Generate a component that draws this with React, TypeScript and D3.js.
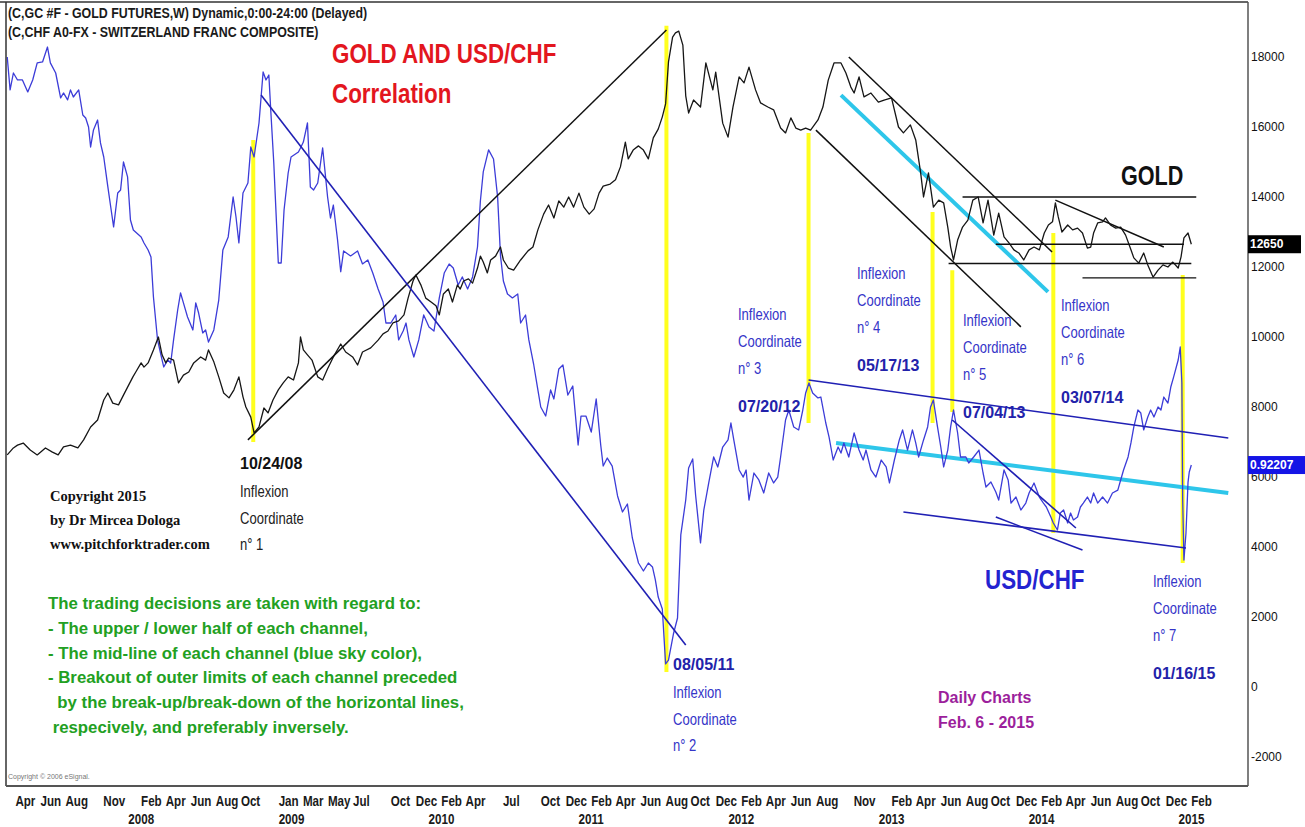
import React from 'react';
import * as d3 from 'd3';

// ---------- DATA ----------
// Gold futures (weekly close, chart units = price x 10)
const goldSeries: [string, number][] = [
  ['2007-03-17',6630],['2007-04-01',6830],['2007-04-11',6910],['2007-04-25',6970],['2007-05-12',6770],['2007-05-29',6630],
  ['2007-06-18',6830],['2007-07-05',6710],['2007-07-19',6630],['2007-08-01',6860],['2007-08-18',6910],['2007-09-05',6830],
  ['2007-09-19',7060],['2007-10-06',7430],['2007-10-23',7630],['2007-11-07',8200],['2007-11-17',8400],['2007-11-29',8110],
  ['2007-12-13',8060],['2007-12-25',8340],['2008-01-17',8860],['2008-01-24',9000],['2008-02-06',9260],['2008-02-13',9140],
  ['2008-02-23',9260],['2008-03-07',9630],['2008-03-19',10000],['2008-03-28',9490],['2008-04-06',9260],['2008-04-13',9400],
  ['2008-04-25',9340],['2008-05-07',8690],['2008-05-19',8910],['2008-06-01',9000],['2008-06-13',9260],['2008-06-30',9430],
  ['2008-07-12',9340],['2008-07-19',9630],['2008-08-01',9290],['2008-08-13',8860],['2008-08-25',8400],['2008-09-07',8260],
  ['2008-09-19',8490],['2008-10-01',8860],['2008-10-11',8290],['2008-10-18',8000],['2008-10-30',7710],['2008-11-07',7260],
  ['2008-11-19',7430],['2008-12-01',7970],['2008-12-11',7830],['2008-12-23',8200],['2009-01-05',8490],['2009-01-17',8690],
  ['2009-01-29',8860],['2009-02-11',8770],['2009-02-23',9260],['2009-02-28',10000],['2009-03-07',9630],['2009-03-17',9490],
  ['2009-03-28',9340],['2009-04-11',8860],['2009-04-23',8770],['2009-05-05',9090],['2009-05-19',9430],['2009-06-06',9800],
  ['2009-06-18',9570],['2009-07-05',9430],['2009-07-17',9200],['2009-07-29',9570],['2009-08-18',9690],['2009-09-05',9910],
  ['2009-09-17',10090],['2009-09-29',10170],['2009-10-11',10400],['2009-10-25',10460],['2009-11-07',10630],['2009-11-17',11110],
  ['2009-11-29',11600],['2009-12-06',11770],['2009-12-18',11490],['2009-12-30',11110],['2010-01-12',11000],['2010-01-24',10890],
  ['2010-02-01',10630],['2010-02-11',11230],['2010-02-23',11370],['2010-03-05',11000],['2010-03-17',11490],['2010-03-24',11370],
  ['2010-04-01',11600],['2010-04-13',11660],['2010-04-23',11540],['2010-05-05',11970],['2010-05-12',12310],['2010-05-19',12140],
  ['2010-05-29',11830],['2010-06-06',12200],['2010-06-18',12310],['2010-06-30',12570],['2010-07-07',12200],['2010-07-19',11970],
  ['2010-08-01',11910],['2010-08-18',12200],['2010-09-05',12460],['2010-09-17',12570],['2010-09-29',13060],['2010-10-13',13510],
  ['2010-10-25',13770],['2010-11-07',13400],['2010-11-19',13890],['2010-12-01',13710],['2010-12-13',14000],['2010-12-25',13710],
  ['2011-01-07',14110],['2011-01-19',13710],['2011-02-01',13510],['2011-02-13',13660],['2011-02-25',14110],['2011-03-07',14310],
  ['2011-03-24',14370],['2011-04-06',14490],['2011-04-18',14860],['2011-04-30',15570],['2011-05-07',15090],['2011-05-19',15340],
  ['2011-06-01',15460],['2011-06-13',15340],['2011-06-25',15090],['2011-07-07',15690],['2011-07-19',15940],['2011-07-29',16290],
  ['2011-08-06',16660],['2011-08-13',17860],['2011-08-23',18570],['2011-08-30',18690],['2011-09-07',18740],['2011-09-17',18340],
  ['2011-09-24',16890],['2011-10-01',16400],['2011-10-13',16770],['2011-10-30',16570],['2011-11-12',17830],['2011-11-29',17060],
  ['2011-12-06',17570],['2011-12-23',16110],['2012-01-05',15710],['2012-01-17',16570],['2012-02-01',17430],['2012-02-13',17260],
  ['2012-02-25',17710],['2012-03-12',17060],['2012-03-24',16690],['2012-04-11',16570],['2012-04-25',16490],['2012-05-12',15970],
  ['2012-05-24',15830],['2012-06-06',16260],['2012-06-18',15970],['2012-06-30',15910],['2012-07-12',15970],['2012-07-24',15910],
  ['2012-08-11',16200],['2012-08-23',16570],['2012-09-05',17340],['2012-09-19',17830],['2012-10-06',17830],['2012-10-18',17540],
  ['2012-10-30',17140],['2012-11-07',16970],['2012-11-19',17430],['2012-12-01',16860],['2012-12-18',16970],['2013-01-05',16710],
  ['2013-01-19',16770],['2013-02-06',16830],['2013-02-23',16000],['2013-03-07',15830],['2013-03-24',16060],['2013-04-06',15630],
  ['2013-04-18',14690],['2013-04-25',14000],['2013-05-07',14690],['2013-05-19',13710],['2013-06-01',13910],['2013-06-13',13830],
  ['2013-06-23',13140],['2013-06-30',12570],['2013-07-07',12200],['2013-07-17',12770],['2013-07-29',13140],['2013-08-11',13340],
  ['2013-08-23',13910],['2013-09-05',14000],['2013-09-17',13260],['2013-09-29',13910],['2013-10-13',12910],['2013-10-25',13540],
  ['2013-11-07',12860],['2013-11-19',12690],['2013-12-01',12490],['2013-12-13',12400],['2013-12-25',12200],['2014-01-07',12490],
  ['2014-01-19',12570],['2014-02-01',12490],['2014-02-13',12970],['2014-02-23',13200],['2014-03-05',13290],['2014-03-12',13830],
  ['2014-03-19',13430],['2014-03-28',13000],['2014-04-11',13200],['2014-04-23',13060],['2014-05-05',13110],['2014-05-17',12970],
  ['2014-05-29',12540],['2014-06-06',12570],['2014-06-13',12970],['2014-06-23',13260],['2014-07-05',13290],['2014-07-12',13400],
  ['2014-07-24',13200],['2014-08-06',13110],['2014-08-18',13140],['2014-08-30',12910],['2014-09-12',12490],['2014-09-19',12260],
  ['2014-10-01',12110],['2014-10-13',12400],['2014-10-23',12060],['2014-11-05',11710],['2014-11-17',11910],['2014-11-29',12060],
  ['2014-12-11',12000],['2014-12-23',12140],['2015-01-05',11970],['2015-01-12',12290],['2015-01-19',12830],['2015-01-29',12970],
  ['2015-02-06',12650],
];

// USD/CHF (Swiss franc composite)
const chfSeries: [string, number][] = [
  ['2007-03-17',1.2738],['2007-03-24',1.2454],['2007-04-01',1.2600],['2007-04-11',1.2540],['2007-04-23',1.2540],['2007-05-06',1.2437],
  ['2007-05-18',1.2540],['2007-05-29',1.2687],['2007-06-11',1.2695],['2007-06-23',1.2824],['2007-06-30',1.2687],['2007-07-13',1.2600],
  ['2007-07-25',1.2385],['2007-08-01',1.2428],['2007-08-11',1.2368],['2007-08-18',1.2454],['2007-08-25',1.2393],['2007-09-07',1.2454],
  ['2007-09-17',1.2238],['2007-09-24',1.2212],['2007-10-01',1.2135],['2007-10-06',1.1962],['2007-10-13',1.2109],['2007-10-23',1.2195],
  ['2007-10-30',1.1997],['2007-11-07',1.1876],['2007-11-17',1.1618],['2007-11-24',1.1445],['2007-12-01',1.1273],['2007-12-11',1.1566],
  ['2007-12-18',1.1592],['2007-12-25',1.1833],['2008-01-04',1.1704],['2008-01-11',1.1333],['2008-01-18',1.1247],['2008-02-06',1.1187],
  ['2008-02-13',1.1135],['2008-02-23',1.1074],['2008-03-01',1.1014],['2008-03-07',1.0669],['2008-03-17',1.0299],['2008-03-24',1.0187],
  ['2008-04-01',1.0066],['2008-04-11',1.0126],['2008-04-18',1.0100],['2008-04-25',1.0299],['2008-05-05',1.0557],['2008-05-12',1.0704],
  ['2008-05-19',1.0618],['2008-05-29',1.0497],['2008-06-11',1.0385],['2008-06-18',1.0618],['2008-06-25',1.0531],['2008-07-05',1.0359],
  ['2008-07-12',1.0385],['2008-07-19',1.0281],['2008-08-01',1.0385],['2008-08-13',1.0643],['2008-08-23',1.1074],['2008-09-05',1.1187],
  ['2008-09-17',1.1531],['2008-09-24',1.1359],['2008-10-01',1.1135],['2008-10-11',1.1566],['2008-10-23',1.1652],['2008-10-30',1.1962],
  ['2008-11-07',1.1876],['2008-11-19',1.2169],['2008-11-29',1.2609],['2008-12-06',1.2540],['2008-12-13',1.2583],['2008-12-18',1.2255],
  ['2008-12-25',1.1824],['2009-01-05',1.0962],['2009-01-12',1.0962],['2009-01-19',1.1419],['2009-01-29',1.1738],['2009-02-05',1.1876],
  ['2009-02-23',1.1919],['2009-02-28',1.1954],['2009-03-07',1.2005],['2009-03-17',1.2169],['2009-03-24',1.1618],['2009-04-01',1.1592],
  ['2009-04-11',1.1652],['2009-04-23',1.1954],['2009-05-05',1.1531],['2009-05-12',1.1350],['2009-05-19',1.1462],['2009-05-29',1.1169],
  ['2009-06-06',1.0887],['2009-06-13',1.1066],['2009-06-30',1.1023],['2009-07-17',1.1066],['2009-07-29',1.0954],['2009-08-11',1.0988],
  ['2009-08-23',1.0876],['2009-09-05',1.0738],['2009-09-17',1.0626],['2009-09-24',1.0445],['2009-10-06',1.0445],['2009-10-18',1.0514],
  ['2009-10-25',1.0299],['2009-11-05',1.0376],['2009-11-12',1.0445],['2009-11-19',1.0299],['2009-12-01',1.0152],['2009-12-13',1.0299],
  ['2009-12-25',1.0514],['2010-01-07',1.0411],['2010-01-19',1.0376],['2010-02-01',1.0661],['2010-02-13',1.0876],['2010-02-25',1.0954],
  ['2010-03-07',1.0919],['2010-03-19',1.0773],['2010-03-29',1.0842],['2010-04-11',1.0738],['2010-04-23',1.0842],['2010-05-05',1.1100],
  ['2010-05-12',1.1497],['2010-05-19',1.1747],['2010-06-01',1.1937],['2010-06-13',1.1859],['2010-06-23',1.1531],['2010-06-30',1.1023],
  ['2010-07-07',1.0807],['2010-07-17',1.0695],['2010-07-29',1.0661],['2010-08-11',1.0695],['2010-08-18',1.0445],['2010-08-30',1.0514],
  ['2010-09-07',1.0299],['2010-09-19',1.0083],['2010-09-29',0.9868],['2010-10-06',0.9721],['2010-10-18',0.9643],['2010-10-30',0.9868],
  ['2010-11-07',0.9790],['2010-11-19',1.0049],['2010-11-29',1.0083],['2010-12-11',0.9824],['2010-12-23',0.9902],['2011-01-05',0.9393],
  ['2011-01-12',0.9643],['2011-01-24',0.9643],['2011-02-06',0.9505],['2011-02-18',0.9790],['2011-03-01',0.9393],['2011-03-07',0.9212],
  ['2011-03-17',0.9281],['2011-03-29',0.9212],['2011-04-11',0.8954],['2011-04-23',0.8816],['2011-05-05',0.8885],['2011-05-17',0.8592],
  ['2011-05-24',0.8488],['2011-06-01',0.8376],['2011-06-13',0.8307],['2011-06-25',0.8376],['2011-07-05',0.8342],['2011-07-12',0.8230],
  ['2011-07-19',0.8083],['2011-07-29',0.7980],['2011-08-06',0.7506],['2011-08-13',0.7540],['2011-08-25',0.7764],['2011-09-04',0.7902],
  ['2011-09-12',0.8618],['2011-09-24',0.8919],['2011-10-01',0.9195],['2011-10-11',0.9273],['2011-10-18',0.8962],['2011-10-30',0.8549],
  ['2011-11-07',0.8833],['2011-11-19',0.9066],['2011-12-01',0.9290],['2011-12-11',0.9204],['2011-12-23',0.9376],['2012-01-05',0.9437],
  ['2012-01-12',0.9583],['2012-01-19',0.9437],['2012-02-01',0.9178],['2012-02-11',0.9117],['2012-02-18',0.9178],['2012-02-25',0.8919],
  ['2012-03-08',0.9152],['2012-03-20',0.9092],['2012-04-01',0.8980],['2012-04-13',0.9152],['2012-04-25',0.9066],['2012-05-05',0.9117],
  ['2012-05-12',0.9290],['2012-05-24',0.9609],['2012-06-01',0.9695],['2012-06-13',0.9549],['2012-06-25',0.9523],['2012-07-05',0.9695],
  ['2012-07-12',0.9842],['2012-07-20',0.9928],['2012-07-29',0.9842],['2012-08-11',0.9799],['2012-08-18',0.9807],['2012-08-30',0.9583],
  ['2012-09-07',0.9462],['2012-09-17',0.9264],['2012-09-29',0.9376],['2012-10-06',0.9324],['2012-10-13',0.9411],['2012-10-25',0.9290],
  ['2012-11-07',0.9497],['2012-11-19',0.9350],['2012-11-29',0.9264],['2012-12-06',0.9350],['2012-12-18',0.9178],['2012-12-30',0.9117],
  ['2013-01-12',0.9264],['2013-01-24',0.9204],['2013-02-01',0.9066],['2013-02-13',0.9264],['2013-02-25',0.9437],['2013-03-05',0.9523],
  ['2013-03-17',0.9350],['2013-03-29',0.9523],['2013-04-06',0.9411],['2013-04-13',0.9290],['2013-04-25',0.9437],['2013-05-05',0.9549],
  ['2013-05-12',0.9721],['2013-05-19',0.9781],['2013-05-29',0.9549],['2013-06-06',0.9376],['2013-06-13',0.9204],['2013-06-23',0.9350],
  ['2013-06-30',0.9549],['2013-07-07',0.9695],['2013-07-17',0.9497],['2013-07-24',0.9290],['2013-08-06',0.9290],['2013-08-13',0.9238],
  ['2013-08-25',0.9290],['2013-09-07',0.9350],['2013-09-17',0.9152],['2013-09-24',0.9031],['2013-10-06',0.9074],['2013-10-18',0.8988],
  ['2013-10-25',0.8919],['2013-11-07',0.9178],['2013-11-17',0.9092],['2013-11-24',0.8893],['2013-12-06',0.8945],['2013-12-18',0.8833],
  ['2013-12-30',0.8893],['2014-01-07',0.8980],['2014-01-19',0.9066],['2014-02-01',0.8945],['2014-02-11',0.8893],['2014-02-18',0.8859],
  ['2014-03-01',0.8773],['2014-03-07',0.8721],['2014-03-17',0.8661],['2014-03-24',0.8807],['2014-04-01',0.8833],['2014-04-11',0.8721],
  ['2014-04-18',0.8807],['2014-04-25',0.8747],['2014-05-05',0.8773],['2014-05-12',0.8859],['2014-05-19',0.8893],['2014-05-29',0.8945],
  ['2014-06-06',0.8893],['2014-06-13',0.8980],['2014-06-23',0.8893],['2014-07-05',0.8945],['2014-07-17',0.8893],['2014-07-29',0.8980],
  ['2014-08-11',0.9005],['2014-08-18',0.9092],['2014-08-25',0.9178],['2014-09-05',0.9290],['2014-09-12',0.9411],['2014-09-19',0.9549],
  ['2014-09-29',0.9695],['2014-10-06',0.9669],['2014-10-13',0.9523],['2014-10-23',0.9635],['2014-10-30',0.9695],['2014-11-07',0.9635],
  ['2014-11-17',0.9721],['2014-11-24',0.9695],['2014-12-01',0.9807],['2014-12-11',0.9755],['2014-12-18',0.9893],['2014-12-25',0.9980],
  ['2015-01-05',1.0126],['2015-01-10',1.0238],['2015-01-14',0.9928],['2015-01-16',0.8919],['2015-01-19',0.8402],['2015-01-24',0.8635],
  ['2015-01-29',0.9074],['2015-02-01',0.9161],['2015-02-06',0.92207],
];

// Gold trend / channel lines [start, end] in gold units
const goldTrendLines: [string, number][][] = [
  [['2008-10-23',7060],['2011-08-08',18770]],
  [['2012-10-25',18000],['2014-03-04',12430]],
  [['2012-08-06',15910],['2013-12-18',10290]],
  [['2014-03-12',13910],['2014-12-01',12570]],
];
const goldMidLines: [string, number][][] = [
  [['2012-10-06',16910],['2014-02-22',11290]],
];
const goldLevels: { from: string; to: string; value: number }[] = [
  { from: '2013-07-29', to: '2015-02-18', value: 14000 },
  { from: '2013-10-18', to: '2015-01-19', value: 12650 },
  { from: '2013-06-25', to: '2015-02-06', value: 12100 },
  { from: '2014-05-17', to: '2015-02-18', value: 11690 },
];
// USD/CHF trend / channel lines
const chfTrendLines: [string, number][][] = [
  [['2008-11-24',1.2410],['2011-09-24',0.7669]],
  [['2012-07-19',0.9953],['2015-05-07',0.9454]],
  [['2013-03-07',0.8816],['2015-01-24',0.8505]],
  [['2013-07-04',0.9609],['2014-05-01',0.8678]],
  [['2013-10-18',0.8772],['2014-05-17',0.8488]],
];
const chfMidLines: [string, number][][] = [
  [['2012-09-24',0.9410],['2015-05-07',0.8979]],
];
// Inflexion coordinates (vertical markers, gold-axis extent)
const inflexionMarkers: { date: string; top: number; bottom: number }[] = [
  { date: '2008-11-05', top: 15630, bottom: 7000 },
  { date: '2011-08-08', top: 18890, bottom: 430 },
  { date: '2012-07-19', top: 15830, bottom: 7540 },
  { date: '2013-05-17', top: 13570, bottom: 7540 },
  { date: '2013-07-04', top: 11910, bottom: 7860 },
  { date: '2014-03-07', top: 12970, bottom: 4400 },
  { date: '2015-01-16', top: 11770, bottom: 3540 },
];
const inflexionDates = ['10/24/08', '08/05/11', '07/20/12', '05/17/13', '07/04/13', '03/07/14', '01/16/15'];

const yTicks = [18000, 16000, 14000, 12000, 10000, 8000, 6000, 4000, 2000, 0, -2000];
const monthTicks = [
  '2007-04','2007-06','2007-08','2007-11',
  '2008-02','2008-04','2008-06','2008-08','2008-10',
  '2009-01','2009-03','2009-05','2009-07','2009-10','2009-12',
  '2010-02','2010-04','2010-07','2010-10','2010-12',
  '2011-02','2011-04','2011-06','2011-08','2011-10','2011-12',
  '2012-02','2012-04','2012-06','2012-08','2012-11',
  '2013-02','2013-04','2013-06','2013-08','2013-10','2013-12',
  '2014-02','2014-04','2014-06','2014-08','2014-10','2014-12',
  '2015-02',
];
const yearTicks = ['2008', '2009', '2010', '2011', '2012', '2013', '2014', '2015'];

const headerLines = [
  '(C,GC #F - GOLD FUTURES,W) Dynamic,0:00-24:00 (Delayed)',
  '(C,CHF A0-FX - SWITZERLAND FRANC COMPOSITE)',
];
const copyrightLines = ['Copyright 2015', 'by Dr Mircea Dologa', 'www.pitchforktrader.com'];
const noteLines = [
  'The trading decisions are taken with regard to:',
  '- The upper / lower half of each channel,',
  '- The mid-line of each channel (blue sky color),',
  '- Breakout of outer limits of each channel preceded',
  '  by the break-up/break-down of the horizontal lines,',
  ' respecively, and preferably inversely.',
];

// ---------- LAYOUT ----------
const W = 1305, H = 827;
const LEFT = 6, RIGHT = 1248, TOP = 2, BOTTOM = 786;
const ARIAL = "'Liberation Sans',Arial,Helvetica,sans-serif";
const SERIF = "'Liberation Serif','Times New Roman',serif";
const BLUE_TXT = '#3535c8';
const BLUE_DATE = '#2222aa';
const NARROW_SCALE = 0.8;

const parseDay = d3.timeParse('%Y-%m-%d');
const parseMonth = d3.timeParse('%Y-%m');
const parseYear = d3.timeParse('%Y');
const fmtMonth = d3.timeFormat('%b');

// Condensed text (Arial Narrow look-alike) by horizontal scaling
function NText(props: { x: number; y: number; size: number; fill: string; bold?: boolean; children: React.ReactNode }) {
  const { x, y, size, fill, bold, children } = props;
  return (
    <text transform={`translate(${x},${y}) scale(${NARROW_SCALE},1)`} fontFamily={ARIAL} fontSize={size}
      fontWeight={bold ? 'bold' : 'normal'} fill={fill}>{children}</text>
  );
}

export default function App() {
  const x = d3.scaleTime().domain([new Date(2007, 2, 14), new Date(2015, 5, 24)]).range([LEFT, RIGHT]);
  const yGold = d3.scaleLinear().domain([-2829, 19571]).range([BOTTOM, TOP]);
  const yChf = d3.scaleLinear().domain([0.6454, 1.3212]).range([BOTTOM, TOP]);
  const xd = (s: string) => x(parseDay(s) as Date);

  const goldPath = d3.line<[string, number]>().x(d => xd(d[0])).y(d => yGold(d[1]))(goldSeries) || '';
  const chfPath = d3.line<[string, number]>().x(d => xd(d[0])).y(d => yChf(d[1]))(chfSeries) || '';
  const seg = (pts: [string, number][], y: d3.ScaleLinear<number, number>) =>
    d3.line<[string, number]>().x(d => xd(d[0])).y(d => y(d[1]))(pts) || '';

  const lastGold = goldSeries[goldSeries.length - 1][1];
  const lastChf = chfSeries[chfSeries.length - 1][1];

  const labels: { x: number; y: number; dateFirst: boolean; color: string; dateColor: string; n: number }[] = [
    { x: 240, y: 469, dateFirst: true, color: '#222', dateColor: '#111', n: 1 },
    { x: 673, y: 670, dateFirst: true, color: BLUE_TXT, dateColor: BLUE_DATE, n: 2 },
    { x: 738, y: 320, dateFirst: false, color: BLUE_TXT, dateColor: BLUE_DATE, n: 3 },
    { x: 857, y: 279, dateFirst: false, color: BLUE_TXT, dateColor: BLUE_DATE, n: 4 },
    { x: 963, y: 326, dateFirst: false, color: BLUE_TXT, dateColor: BLUE_DATE, n: 5 },
    { x: 1061, y: 311, dateFirst: false, color: BLUE_TXT, dateColor: BLUE_DATE, n: 6 },
    { x: 1153, y: 587, dateFirst: false, color: BLUE_TXT, dateColor: BLUE_DATE, n: 7 },
  ];

  return (
    <svg width={W} height={H} style={{ position: 'absolute', left: 0, top: 0, background: '#fff' }}>
      <rect x={0} y={0} width={W} height={H} fill="#fff" />

      {/* inflexion vertical markers */}
      {inflexionMarkers.map((m, i) => (
        <line key={'ym' + i} x1={xd(m.date)} x2={xd(m.date)} y1={yGold(m.top)} y2={yGold(m.bottom)}
          stroke="#ffff1e" strokeWidth={4} />
      ))}

      {/* mid-lines (sky blue) */}
      {goldMidLines.map((l, i) => <path key={'gm' + i} d={seg(l, yGold)} stroke="#2ec6ea" strokeWidth={4} fill="none" />)}
      {chfMidLines.map((l, i) => <path key={'cm' + i} d={seg(l, yChf)} stroke="#2ec6ea" strokeWidth={4} fill="none" />)}

      {/* series */}
      <path d={chfPath} fill="none" stroke="#3c3cd8" strokeWidth={1.3} strokeLinejoin="round" />
      <path d={goldPath} fill="none" stroke="#161616" strokeWidth={1.3} strokeLinejoin="round" />

      {/* trend & channel lines */}
      {goldTrendLines.map((l, i) => <path key={'gt' + i} d={seg(l, yGold)} stroke="#111" strokeWidth={1.5} fill="none" />)}
      {goldLevels.map((l, i) => (
        <line key={'gl' + i} x1={xd(l.from)} x2={xd(l.to)} y1={yGold(l.value)} y2={yGold(l.value)} stroke="#111" strokeWidth={1.4} />
      ))}
      {chfTrendLines.map((l, i) => <path key={'ct' + i} d={seg(l, yChf)} stroke="#2020b4" strokeWidth={1.6} fill="none" />)}

      {/* frame */}
      <line x1={LEFT} x2={LEFT} y1={TOP} y2={BOTTOM} stroke="#333" strokeWidth={1.5} />
      <line x1={0} x2={RIGHT} y1={TOP} y2={TOP} stroke="#333" strokeWidth={1.5} />
      <line x1={RIGHT} x2={RIGHT} y1={TOP} y2={BOTTOM} stroke="#555" strokeWidth={1.5} />
      <line x1={LEFT} x2={RIGHT} y1={BOTTOM} y2={BOTTOM} stroke="#555" strokeWidth={2} />

      {/* header */}
      {headerLines.map((t, i) => (
        <NText key={'h' + i} x={8} y={18 + i * 19} size={15.5} bold fill="#1a1a1a">{t}</NText>
      ))}

      {/* titles */}
      <NText x={332} y={63} size={28} bold fill="#e3161e">GOLD AND USD/CHF</NText>
      <NText x={332} y={103} size={28} bold fill="#e3161e">Correlation</NText>
      <NText x={1121} y={185} size={27} bold fill="#111">GOLD</NText>
      <NText x={985} y={589} size={28} bold fill="#2323d0">USD/CHF</NText>

      {/* inflexion labels */}
      {labels.map((l, i) => {
        const date = inflexionDates[i];
        const words = ['Inflexion', 'Coordinate', 'n° ' + l.n];
        const dateEl = (yy: number) => (
          <text x={l.x} y={yy} fontFamily={ARIAL} fontWeight="bold" fontSize={16} fill={l.dateColor}>{date}</text>
        );
        if (l.dateFirst) {
          return (
            <g key={'lab' + i}>
              {dateEl(l.y)}
              {words.map((w, j) => (
                <NText key={j} x={l.x} y={l.y + 28 + j * 26.5} size={16.3} fill={l.color}>{w}</NText>
              ))}
            </g>
          );
        }
        return (
          <g key={'lab' + i}>
            {words.map((w, j) => (
              <NText key={j} x={l.x} y={l.y + j * 27} size={16.3} fill={l.color}>{w}</NText>
            ))}
            {dateEl(l.y + 92)}
          </g>
        );
      })}

      {/* copyright block */}
      {copyrightLines.map((t, i) => (
        <text key={'c' + i} x={50} y={501 + i * 24} fontFamily={SERIF} fontWeight="bold" fontSize={14.5} fill="#111">{t}</text>
      ))}

      {/* notes */}
      {noteLines.map((t, i) => (
        <text key={'n' + i} x={48} y={609 + i * 24.8} fontFamily={ARIAL} fontWeight="bold" fontSize={16.8} fill="#22a022"
          style={{ whiteSpace: 'pre' }}>{t}</text>
      ))}

      <text x={938} y={703} fontFamily={ARIAL} fontWeight="bold" fontSize={16} fill="#9c1f9c">Daily Charts</text>
      <text x={938} y={728} fontFamily={ARIAL} fontWeight="bold" fontSize={16} fill="#9c1f9c">Feb. 6 - 2015</text>

      <text x={8} y={779} fontFamily={ARIAL} fontSize={7} fill="#777">Copyright © 2006 eSignal.</text>

      {/* right axis */}
      {yTicks.map(v => (
        <text key={'yt' + v} x={RIGHT + 3} y={yGold(v)} dy="0.35em" fontFamily={ARIAL} fontSize={12} fill="#111">{v}</text>
      ))}
      <rect x={RIGHT} y={yGold(lastGold) - 9} width={53} height={18} fill="#000" />
      <text x={RIGHT + 2} y={yGold(lastGold)} dy="0.35em" fontFamily={ARIAL} fontWeight="bold" fontSize={12} fill="#fff">{lastGold}</text>
      <rect x={RIGHT} y={yChf(lastChf) - 9} width={57} height={18} fill="#1414e6" />
      <text x={RIGHT + 2} y={yChf(lastChf)} dy="0.35em" fontFamily={ARIAL} fontWeight="bold" fontSize={12} fill="#fff">{lastChf.toFixed(5)}</text>

      {/* bottom axis */}
      {monthTicks.map(m => (
        <NText key={'mt' + m} x={x(parseMonth(m) as Date) + 2} y={806} size={14.5} bold fill="#1a1a1a">
          {fmtMonth(parseMonth(m) as Date)}
        </NText>
      ))}
      {yearTicks.map(yv => (
        <NText key={'yr' + yv} x={x(parseYear(yv) as Date) + 2} y={824} size={14.5} bold fill="#1a1a1a">{yv}</NText>
      ))}
    </svg>
  );
}
